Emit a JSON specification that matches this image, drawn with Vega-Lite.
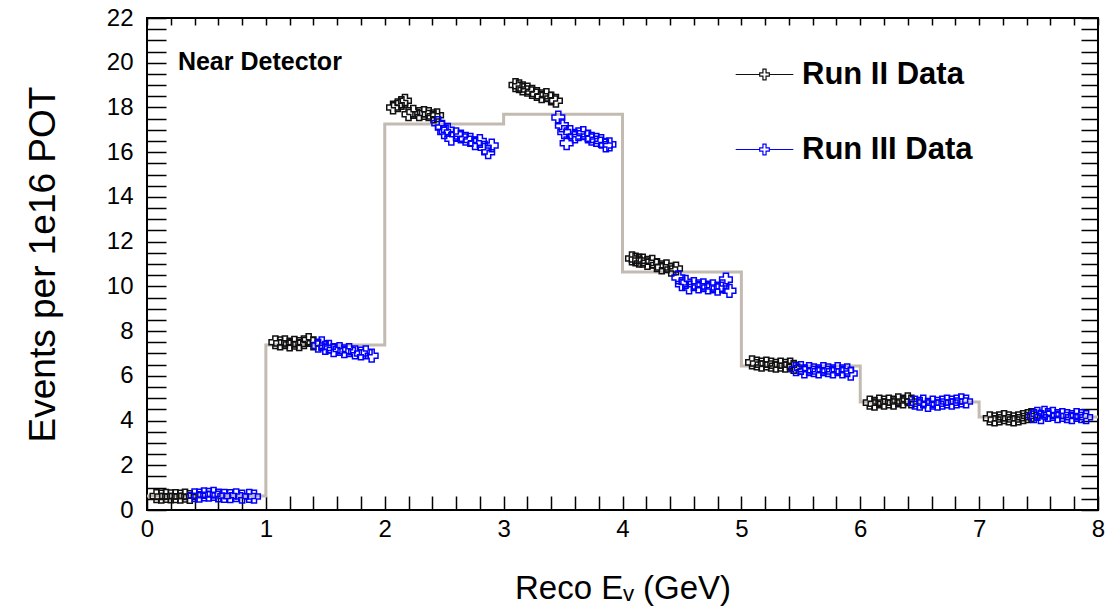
{
  "$schema": "https://vega.github.io/schema/vega-lite/v6.json",
  "width": 951,
  "height": 492,
  "autosize": {"type": "none"},
  "padding": {"left": 147, "top": 18, "right": 15, "bottom": 99},
  "background": "white",
  "config": {
    "view": {"stroke": "black", "strokeWidth": 2},
    "axis": {"grid": false, "domain": false, "tickColor": "black", "tickWidth": 1.5, "labelColor": "black", "labelFont": "Liberation Sans, Arial", "titleColor": "black", "labelOverlap": false, "labelFlush": false, "labelSeparation": 0}
  },
  "datasets": {
    "hist": [
      {"edge": 0, "content": 0.63}, {"edge": 1, "content": 7.38}, {"edge": 2, "content": 17.26}, {"edge": 3, "content": 17.7},
      {"edge": 4, "content": 10.64}, {"edge": 5, "content": 6.44}, {"edge": 6, "content": 4.83}, {"edge": 7, "content": 4.16}, {"edge": 8, "content": 4.16}
    ],
    "pts": [
      {"run": "Run II Data", "energy": 0.08, "events": 0.62}, {"run": "Run II Data", "energy": 0.12, "events": 0.60}, {"run": "Run II Data", "energy": 0.16, "events": 0.63}, {"run": "Run II Data", "energy": 0.20, "events": 0.61}, {"run": "Run II Data", "energy": 0.24, "events": 0.62}, {"run": "Run II Data", "energy": 0.28, "events": 0.60}, {"run": "Run II Data", "energy": 0.32, "events": 0.64}, {"run": "Run II Data", "energy": 0.36, "events": 0.58},
      {"run": "Run II Data", "energy": 1.08, "events": 7.50}, {"run": "Run II Data", "energy": 1.12, "events": 7.45}, {"run": "Run II Data", "energy": 1.16, "events": 7.50}, {"run": "Run II Data", "energy": 1.20, "events": 7.40}, {"run": "Run II Data", "energy": 1.24, "events": 7.48}, {"run": "Run II Data", "energy": 1.28, "events": 7.42}, {"run": "Run II Data", "energy": 1.32, "events": 7.50}, {"run": "Run II Data", "energy": 1.36, "events": 7.60}, {"run": "Run II Data", "energy": 1.40, "events": 7.45},
      {"run": "Run II Data", "energy": 2.07, "events": 18.0}, {"run": "Run II Data", "energy": 2.11, "events": 18.1}, {"run": "Run II Data", "energy": 2.14, "events": 18.2}, {"run": "Run II Data", "energy": 2.17, "events": 18.3}, {"run": "Run II Data", "energy": 2.20, "events": 17.7}, {"run": "Run II Data", "energy": 2.24, "events": 17.8}, {"run": "Run II Data", "energy": 2.29, "events": 17.7}, {"run": "Run II Data", "energy": 2.33, "events": 17.75}, {"run": "Run II Data", "energy": 2.37, "events": 17.7}, {"run": "Run II Data", "energy": 2.41, "events": 17.6}, {"run": "Run II Data", "energy": 2.44, "events": 17.65},
      {"run": "Run II Data", "energy": 3.10, "events": 19.0}, {"run": "Run II Data", "energy": 3.13, "events": 18.95}, {"run": "Run II Data", "energy": 3.16, "events": 18.85}, {"run": "Run II Data", "energy": 3.20, "events": 18.8}, {"run": "Run II Data", "energy": 3.24, "events": 18.7}, {"run": "Run II Data", "energy": 3.28, "events": 18.6}, {"run": "Run II Data", "energy": 3.32, "events": 18.5}, {"run": "Run II Data", "energy": 3.36, "events": 18.55}, {"run": "Run II Data", "energy": 3.40, "events": 18.4}, {"run": "Run II Data", "energy": 3.44, "events": 18.3},
      {"run": "Run II Data", "energy": 4.08, "events": 11.25}, {"run": "Run II Data", "energy": 4.11, "events": 11.2}, {"run": "Run II Data", "energy": 4.14, "events": 11.15}, {"run": "Run II Data", "energy": 4.17, "events": 11.15}, {"run": "Run II Data", "energy": 4.21, "events": 11.05}, {"run": "Run II Data", "energy": 4.25, "events": 11.1}, {"run": "Run II Data", "energy": 4.29, "events": 10.95}, {"run": "Run II Data", "energy": 4.33, "events": 10.85}, {"run": "Run II Data", "energy": 4.37, "events": 10.9}, {"run": "Run II Data", "energy": 4.41, "events": 10.75}, {"run": "Run II Data", "energy": 4.45, "events": 10.8},
      {"run": "Run II Data", "energy": 5.09, "events": 6.6}, {"run": "Run II Data", "energy": 5.13, "events": 6.55}, {"run": "Run II Data", "energy": 5.17, "events": 6.5}, {"run": "Run II Data", "energy": 5.21, "events": 6.55}, {"run": "Run II Data", "energy": 5.25, "events": 6.5}, {"run": "Run II Data", "energy": 5.29, "events": 6.45}, {"run": "Run II Data", "energy": 5.33, "events": 6.5}, {"run": "Run II Data", "energy": 5.37, "events": 6.45}, {"run": "Run II Data", "energy": 5.41, "events": 6.5}, {"run": "Run II Data", "energy": 5.44, "events": 6.4},
      {"run": "Run II Data", "energy": 6.08, "events": 4.8}, {"run": "Run II Data", "energy": 6.12, "events": 4.75}, {"run": "Run II Data", "energy": 6.16, "events": 4.85}, {"run": "Run II Data", "energy": 6.20, "events": 4.8}, {"run": "Run II Data", "energy": 6.24, "events": 4.85}, {"run": "Run II Data", "energy": 6.28, "events": 4.8}, {"run": "Run II Data", "energy": 6.32, "events": 4.9}, {"run": "Run II Data", "energy": 6.36, "events": 4.85}, {"run": "Run II Data", "energy": 6.40, "events": 4.95}, {"run": "Run II Data", "energy": 6.43, "events": 4.85},
      {"run": "Run II Data", "energy": 7.09, "events": 4.1}, {"run": "Run II Data", "energy": 7.13, "events": 4.05}, {"run": "Run II Data", "energy": 7.17, "events": 4.1}, {"run": "Run II Data", "energy": 7.21, "events": 4.15}, {"run": "Run II Data", "energy": 7.25, "events": 4.1}, {"run": "Run II Data", "energy": 7.29, "events": 4.05}, {"run": "Run II Data", "energy": 7.33, "events": 4.1}, {"run": "Run II Data", "energy": 7.37, "events": 4.15}, {"run": "Run II Data", "energy": 7.41, "events": 4.2}, {"run": "Run II Data", "energy": 7.44, "events": 4.25},
      {"run": "Run III Data", "energy": 0.40, "events": 0.66}, {"run": "Run III Data", "energy": 0.44, "events": 0.64}, {"run": "Run III Data", "energy": 0.48, "events": 0.70}, {"run": "Run III Data", "energy": 0.52, "events": 0.68}, {"run": "Run III Data", "energy": 0.56, "events": 0.72}, {"run": "Run III Data", "energy": 0.60, "events": 0.65}, {"run": "Run III Data", "energy": 0.65, "events": 0.63}, {"run": "Run III Data", "energy": 0.70, "events": 0.62}, {"run": "Run III Data", "energy": 0.75, "events": 0.66}, {"run": "Run III Data", "energy": 0.80, "events": 0.60}, {"run": "Run III Data", "energy": 0.86, "events": 0.63}, {"run": "Run III Data", "energy": 0.90, "events": 0.60},
      {"run": "Run III Data", "energy": 1.44, "events": 7.35}, {"run": "Run III Data", "energy": 1.47, "events": 7.45}, {"run": "Run III Data", "energy": 1.50, "events": 7.25}, {"run": "Run III Data", "energy": 1.53, "events": 7.30}, {"run": "Run III Data", "energy": 1.57, "events": 7.15}, {"run": "Run III Data", "energy": 1.62, "events": 7.20}, {"run": "Run III Data", "energy": 1.66, "events": 7.10}, {"run": "Run III Data", "energy": 1.70, "events": 7.15}, {"run": "Run III Data", "energy": 1.75, "events": 7.05}, {"run": "Run III Data", "energy": 1.80, "events": 7.00}, {"run": "Run III Data", "energy": 1.84, "events": 7.05}, {"run": "Run III Data", "energy": 1.89, "events": 6.90},
      {"run": "Run III Data", "energy": 2.45, "events": 17.3}, {"run": "Run III Data", "energy": 2.48, "events": 17.1}, {"run": "Run III Data", "energy": 2.50, "events": 16.9}, {"run": "Run III Data", "energy": 2.53, "events": 17.0}, {"run": "Run III Data", "energy": 2.56, "events": 16.6}, {"run": "Run III Data", "energy": 2.60, "events": 16.8}, {"run": "Run III Data", "energy": 2.64, "events": 16.7}, {"run": "Run III Data", "energy": 2.68, "events": 16.6}, {"run": "Run III Data", "energy": 2.72, "events": 16.55}, {"run": "Run III Data", "energy": 2.76, "events": 16.4}, {"run": "Run III Data", "energy": 2.80, "events": 16.5}, {"run": "Run III Data", "energy": 2.84, "events": 16.2}, {"run": "Run III Data", "energy": 2.87, "events": 16.0}, {"run": "Run III Data", "energy": 2.90, "events": 16.3},
      {"run": "Run III Data", "energy": 3.46, "events": 17.55}, {"run": "Run III Data", "energy": 3.49, "events": 17.2}, {"run": "Run III Data", "energy": 3.51, "events": 16.9}, {"run": "Run III Data", "energy": 3.53, "events": 16.4}, {"run": "Run III Data", "energy": 3.56, "events": 16.9}, {"run": "Run III Data", "energy": 3.60, "events": 16.7}, {"run": "Run III Data", "energy": 3.63, "events": 16.8}, {"run": "Run III Data", "energy": 3.67, "events": 16.85}, {"run": "Run III Data", "energy": 3.71, "events": 16.7}, {"run": "Run III Data", "energy": 3.74, "events": 16.6}, {"run": "Run III Data", "energy": 3.78, "events": 16.55}, {"run": "Run III Data", "energy": 3.82, "events": 16.5}, {"run": "Run III Data", "energy": 3.86, "events": 16.3}, {"run": "Run III Data", "energy": 3.89, "events": 16.35},
      {"run": "Run III Data", "energy": 4.47, "events": 10.4}, {"run": "Run III Data", "energy": 4.50, "events": 10.1}, {"run": "Run III Data", "energy": 4.53, "events": 10.2}, {"run": "Run III Data", "energy": 4.56, "events": 9.95}, {"run": "Run III Data", "energy": 4.60, "events": 10.1}, {"run": "Run III Data", "energy": 4.64, "events": 10.0}, {"run": "Run III Data", "energy": 4.68, "events": 10.05}, {"run": "Run III Data", "energy": 4.72, "events": 9.95}, {"run": "Run III Data", "energy": 4.76, "events": 10.0}, {"run": "Run III Data", "energy": 4.80, "events": 9.9}, {"run": "Run III Data", "energy": 4.84, "events": 10.0}, {"run": "Run III Data", "energy": 4.87, "events": 10.3}, {"run": "Run III Data", "energy": 4.90, "events": 9.8},
      {"run": "Run III Data", "energy": 5.46, "events": 6.3}, {"run": "Run III Data", "energy": 5.50, "events": 6.35}, {"run": "Run III Data", "energy": 5.53, "events": 6.2}, {"run": "Run III Data", "energy": 5.57, "events": 6.3}, {"run": "Run III Data", "energy": 5.61, "events": 6.25}, {"run": "Run III Data", "energy": 5.65, "events": 6.2}, {"run": "Run III Data", "energy": 5.69, "events": 6.3}, {"run": "Run III Data", "energy": 5.73, "events": 6.25}, {"run": "Run III Data", "energy": 5.77, "events": 6.2}, {"run": "Run III Data", "energy": 5.81, "events": 6.3}, {"run": "Run III Data", "energy": 5.85, "events": 6.2}, {"run": "Run III Data", "energy": 5.89, "events": 6.25}, {"run": "Run III Data", "energy": 5.92, "events": 6.1},
      {"run": "Run III Data", "energy": 6.46, "events": 4.8}, {"run": "Run III Data", "energy": 6.50, "events": 4.75}, {"run": "Run III Data", "energy": 6.53, "events": 4.85}, {"run": "Run III Data", "energy": 6.57, "events": 4.7}, {"run": "Run III Data", "energy": 6.61, "events": 4.8}, {"run": "Run III Data", "energy": 6.65, "events": 4.75}, {"run": "Run III Data", "energy": 6.69, "events": 4.8}, {"run": "Run III Data", "energy": 6.73, "events": 4.85}, {"run": "Run III Data", "energy": 6.77, "events": 4.8}, {"run": "Run III Data", "energy": 6.81, "events": 4.85}, {"run": "Run III Data", "energy": 6.85, "events": 4.9}, {"run": "Run III Data", "energy": 6.89, "events": 4.85},
      {"run": "Run III Data", "energy": 7.46, "events": 4.2}, {"run": "Run III Data", "energy": 7.49, "events": 4.3}, {"run": "Run III Data", "energy": 7.52, "events": 4.15}, {"run": "Run III Data", "energy": 7.55, "events": 4.35}, {"run": "Run III Data", "energy": 7.58, "events": 4.25}, {"run": "Run III Data", "energy": 7.62, "events": 4.3}, {"run": "Run III Data", "energy": 7.66, "events": 4.2}, {"run": "Run III Data", "energy": 7.70, "events": 4.25}, {"run": "Run III Data", "energy": 7.74, "events": 4.2}, {"run": "Run III Data", "energy": 7.78, "events": 4.15}, {"run": "Run III Data", "energy": 7.82, "events": 4.25}, {"run": "Run III Data", "energy": 7.86, "events": 4.2}, {"run": "Run III Data", "energy": 7.90, "events": 4.15}
    ],
    "note": [{"energy": 0.26, "events": 19.68, "label": "Near Detector"}]
  },
  "layer": [
    {
      "data": {"name": "hist"},
      "mark": {"type": "line", "interpolate": "step-after", "stroke": "#c3bab1", "strokeWidth": 3},
      "encoding": {
        "x": {
          "field": "edge", "type": "quantitative",
          "scale": {"domain": [0, 8], "nice": false, "zero": false},
          "axis": {
            "orient": "bottom",
            "values": [0,0.2,0.4,0.6,0.8,1,1.2,1.4,1.6,1.8,2,2.2,2.4,2.6,2.8,3,3.2,3.4,3.6,3.8,4,4.2,4.4,4.6,4.8,5,5.2,5.4,5.6,5.8,6,6.2,6.4,6.6,6.8,7,7.2,7.4,7.6,7.8,8],
            "labelExpr": "abs(datum.value - round(datum.value)) < 0.001 ? format(datum.value, 'd') : ''",
            "labelFontSize": 24,
            "labelPadding": 21,
            "labelOverlap": false,
            "labelFlush": false,
            "tickSize": -14,
            "encode": {"ticks": {"update": {"y2": {"signal": "abs(datum.value - round(datum.value)) < 0.001 ? -14 : -7"}}}},
            "title": "Reco Eᵥ (GeV)",
            "titleFont": "Liberation Sans, Arial",
            "titleFontSize": 33,
            "titleFontWeight": "normal",
            "titleX": 475.5,
            "titleY": 88,
            "titleAlign": "center",
            "titleBaseline": "alphabetic"
          }
        },
        "y": {
          "field": "content", "type": "quantitative",
          "scale": {"domain": [0, 22], "nice": false, "zero": true},
          "axis": {
            "orient": "left",
            "values": [0,0.5,1,1.5,2,2.5,3,3.5,4,4.5,5,5.5,6,6.5,7,7.5,8,8.5,9,9.5,10,10.5,11,11.5,12,12.5,13,13.5,14,14.5,15,15.5,16,16.5,17,17.5,18,18.5,19,19.5,20,20.5,21,21.5,22],
            "labelExpr": "datum.value % 2 === 0 ? format(datum.value, 'd') : ''",
            "labelFontSize": 24,
            "labelPadding": 33,
            "labelOverlap": false,
            "labelFlush": false,
            "tickSize": -19,
            "encode": {"ticks": {"update": {"x2": {"signal": "datum.value % 2 === 0 ? 19 : 10"}}}},
            "title": "Events per 1e16 POT",
            "titleFont": "Liberation Sans, Arial",
            "titleFontSize": 37,
            "titleFontWeight": "normal",
            "titleAngle": 270,
            "titleX": -104,
            "titleY": 246,
            "titleAlign": "center",
            "titleBaseline": "middle"
          }
        }
      }
    },
    {
      "data": {"name": "pts"},
      "mark": {"type": "point", "shape": "cross", "filled": false, "size": 160, "strokeWidth": 1.5, "opacity": 1},
      "encoding": {
        "x": {
          "field": "energy", "type": "quantitative",
          "scale": {"domain": [0, 8], "nice": false, "zero": false},
          "axis": {
            "orient": "top", "labels": false, "title": null,
            "values": [0,0.2,0.4,0.6,0.8,1,1.2,1.4,1.6,1.8,2,2.2,2.4,2.6,2.8,3,3.2,3.4,3.6,3.8,4,4.2,4.4,4.6,4.8,5,5.2,5.4,5.6,5.8,6,6.2,6.4,6.6,6.8,7,7.2,7.4,7.6,7.8,8],
            "tickSize": -7
          }
        },
        "y": {
          "field": "events", "type": "quantitative",
          "scale": {"domain": [0, 22], "nice": false, "zero": true},
          "axis": {
            "orient": "right", "labels": false, "title": null,
            "values": [0,0.5,1,1.5,2,2.5,3,3.5,4,4.5,5,5.5,6,6.5,7,7.5,8,8.5,9,9.5,10,10.5,11,11.5,12,12.5,13,13.5,14,14.5,15,15.5,16,16.5,17,17.5,18,18.5,19,19.5,20,20.5,21,21.5,22],
            "tickSize": -17,
            "encode": {"ticks": {"update": {"x2": {"signal": "datum.value % 2 === 0 ? -17 : -8"}}}}
          }
        },
        "stroke": {
          "field": "run", "type": "nominal",
          "scale": {"domain": ["Run II Data", "Run III Data"], "range": ["#111111", "#0000ff"]},
          "legend": {
            "orient": "none",
            "legendX": 602,
            "legendY": 41,
            "direction": "vertical",
            "title": null,
            "symbolType": "M-2.4,0H-0.4M0.4,0H2.4M-0.4,-0.13H-0.13V-0.45H0.13V-0.13H0.4V0.13H0.13V0.45H-0.13V0.13H-0.4Z",
            "symbolSize": 576,
            "symbolStrokeWidth": 1.2,
            "labelFont": "Liberation Sans, Arial",
            "labelFontSize": 31,
            "labelFontWeight": "bold",
            "labelColor": "black",
            "labelOffset": 22,
            "labelLimit": 400,
            "rowPadding": 43,
            "encode": {"symbols": {"update": {"fill": {"scale": "stroke", "field": "value"}, "stroke": {"value": "#222222"}}}}
          }
        }
      }
    },
    {
      "data": {"name": "note"},
      "mark": {"type": "text", "align": "left", "baseline": "alphabetic", "font": "Liberation Sans, Arial", "fontSize": 25, "fontWeight": "bold", "color": "black"},
      "encoding": {
        "x": {"field": "energy", "type": "quantitative", "scale": {"domain": [0, 8], "nice": false, "zero": false}, "axis": null},
        "y": {"field": "events", "type": "quantitative", "scale": {"domain": [0, 22], "nice": false, "zero": true}, "axis": null},
        "text": {"field": "label"}
      }
    }
  ],
  "resolve": {"axis": {"x": "independent", "y": "independent"}}
}
